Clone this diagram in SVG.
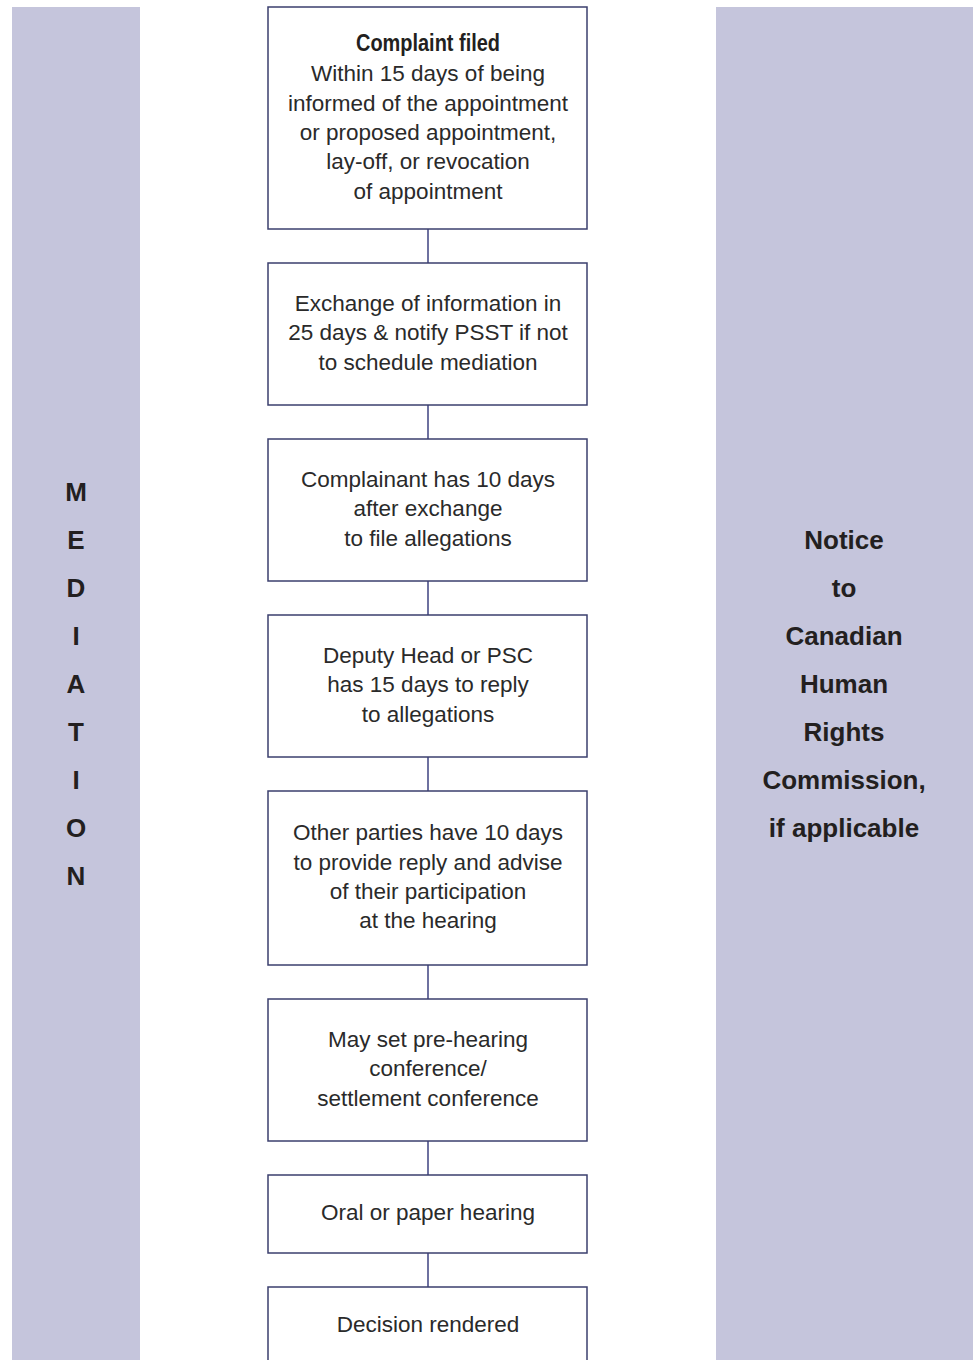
<svg xmlns="http://www.w3.org/2000/svg" width="973" height="1360" viewBox="0 0 973 1360">
<style>
.bar{fill:#c5c5dc}
.box{fill:#ffffff;stroke:#3b3f6e;stroke-width:1.5}
.conn{stroke:#6e71a0;stroke-width:2;fill:none}
.t{font-family:"Liberation Sans",Arial,sans-serif;font-size:22.5px;fill:#2a2a2a;text-anchor:middle}
.tb{font-family:"Liberation Sans",Arial,sans-serif;font-size:23px;font-weight:bold;fill:#231f20;text-anchor:middle}
.side{font-family:"Liberation Sans",Arial,sans-serif;font-size:26px;font-weight:bold;fill:#231f20;text-anchor:middle}
</style>
<rect width="973" height="1360" fill="#ffffff"/>
<g id="mediation">
<rect class="bar" x="12" y="7" width="128" height="1353"/>
<text class="side" x="76" y="501">M</text>
<text class="side" x="76" y="549">E</text>
<text class="side" x="76" y="597">D</text>
<text class="side" x="76" y="645">I</text>
<text class="side" x="76" y="693">A</text>
<text class="side" x="76" y="741">T</text>
<text class="side" x="76" y="789">I</text>
<text class="side" x="76" y="837">O</text>
<text class="side" x="76" y="885">N</text>
</g>
<g id="notice">
<rect class="bar" x="716" y="7" width="257" height="1353"/>
<text class="side" x="844" y="549">Notice</text>
<text class="side" x="844" y="597">to</text>
<text class="side" x="844" y="645">Canadian</text>
<text class="side" x="844" y="693">Human</text>
<text class="side" x="844" y="741">Rights</text>
<text class="side" x="844" y="789">Commission,</text>
<text class="side" x="844" y="837">if applicable</text>
</g>
<g id="connectors">
<line class="conn" x1="428" y1="229" x2="428" y2="263"/>
<line class="conn" x1="428" y1="405" x2="428" y2="439"/>
<line class="conn" x1="428" y1="581" x2="428" y2="615"/>
<line class="conn" x1="428" y1="757" x2="428" y2="791"/>
<line class="conn" x1="428" y1="965" x2="428" y2="999"/>
<line class="conn" x1="428" y1="1141" x2="428" y2="1175"/>
<line class="conn" x1="428" y1="1253" x2="428" y2="1287"/>
</g>
<g id="n1">
<rect class="box" x="268" y="7" width="319" height="222"/>
<text class="tb" x="428" y="51" textLength="144" lengthAdjust="spacingAndGlyphs">Complaint filed</text>
<text class="t" x="428" y="81">Within 15 days of being</text>
<text class="t" x="428" y="111">informed of the appointment</text>
<text class="t" x="428" y="140">or proposed appointment,</text>
<text class="t" x="428" y="169">lay-off, or revocation</text>
<text class="t" x="428" y="199">of appointment</text>
</g>
<g id="n2">
<rect class="box" x="268" y="263" width="319" height="142"/>
<text class="t" x="428" y="311">Exchange of information in</text>
<text class="t" x="428" y="340">25 days &amp; notify PSST if not</text>
<text class="t" x="428" y="370">to schedule mediation</text>
</g>
<g id="n3">
<rect class="box" x="268" y="439" width="319" height="142"/>
<text class="t" x="428" y="487">Complainant has 10 days</text>
<text class="t" x="428" y="516">after exchange</text>
<text class="t" x="428" y="546">to file allegations</text>
</g>
<g id="n4">
<rect class="box" x="268" y="615" width="319" height="142"/>
<text class="t" x="428" y="663">Deputy Head or PSC</text>
<text class="t" x="428" y="692">has 15 days to reply</text>
<text class="t" x="428" y="722">to allegations</text>
</g>
<g id="n5">
<rect class="box" x="268" y="791" width="319" height="174"/>
<text class="t" x="428" y="840">Other parties have 10 days</text>
<text class="t" x="428" y="870">to provide reply and advise</text>
<text class="t" x="428" y="899">of their participation</text>
<text class="t" x="428" y="928">at the hearing</text>
</g>
<g id="n6">
<rect class="box" x="268" y="999" width="319" height="142"/>
<text class="t" x="428" y="1047">May set pre-hearing</text>
<text class="t" x="428" y="1076">conference/</text>
<text class="t" x="428" y="1106">settlement conference</text>
</g>
<g id="n7">
<rect class="box" x="268" y="1175" width="319" height="78"/>
<text class="t" x="428" y="1220">Oral or paper hearing</text>
</g>
<g id="n8">
<rect class="box" x="268" y="1287" width="319" height="80"/>
<text class="t" x="428" y="1332">Decision rendered</text>
</g>
</svg>
